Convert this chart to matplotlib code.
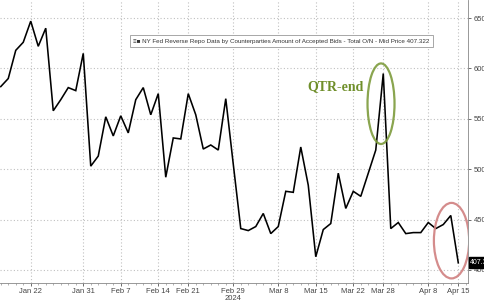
import matplotlib.pyplot as plt
from matplotlib.patches import Ellipse
from matplotlib.ticker import MultipleLocator

# RRP accepted bids (bn USD), one per business day from Jan 16 to the last print
vals = [582, 590, 618, 626, 647, 622, 640, 558, 569, 581,
        578, 615, 503, 513, 552, 533, 553, 536, 569, 581,
        554, 575, 492, 531, 530, 575, 554, 520, 524, 519,
        570, 505, 441, 439, 443, 456, 436, 443, 478, 477,
        522, 484, 413, 440, 446, 496, 461, 478, 473, 496,
        519, 595, 441, 447, 436, 437, 437, 447, 441, 445,
        454, 407]
tick_idx = [4, 11, 16, 21, 25, 31, 37, 42, 47, 51, 57, 61]
tick_lbl = ['Jan 22', 'Jan 31', 'Feb 7', 'Feb 14', 'Feb 21', 'Feb 29\n2024',
            'Mar 8', 'Mar 15', 'Mar 22', 'Mar 28', 'Apr 8', 'Apr 15']
y_ticks = [400, 450, 500, 550, 600, 650]
last = 407.322

plt.rcParams['font.family'] = ['Liberation Sans', 'DejaVu Sans']

fig = plt.figure(figsize=(4.85, 3.01), dpi=100)
ax = fig.add_axes([0, 0.06, 0.965, 0.94])

x = list(range(len(vals)))
ax.plot(x, vals, c='black', lw=1.15, solid_joinstyle='miter', zorder=3)

ax.set_xlim(-0.1, 62.3)
ax.set_ylim(387, 668)

ax.yaxis.tick_right()
ax.set_yticks(y_ticks)
ax.set_xticks(tick_idx)
ax.set_xticklabels(tick_lbl, linespacing=0.95)
ax.xaxis.set_minor_locator(MultipleLocator(1))
ax.tick_params(axis='both', which='major', labelsize=5.5, colors='#555555',
               length=2.5, width=0.6, pad=1.5)
ax.tick_params(axis='x', which='minor', length=1.5, width=0.4, colors='#777777')
for lab in ax.get_xticklabels() + ax.get_yticklabels():
    lab.set_color('#444444')

ax.grid(True, ls=(0, (1, 2)), c='#c0c0c0', lw=0.8)
ax.spines['top'].set_visible(False)
ax.spines['left'].set_visible(False)
ax.spines['right'].set_color('#888888')
ax.spines['bottom'].set_color('#888888')
ax.spines['right'].set_linewidth(0.6)
ax.spines['bottom'].set_linewidth(0.6)

# legend box
ax.text(0.285, 0.855,
        '\u2261\u25A0 NY Fed Reverse Repo Data by Counterparties Amount of Accepted Bids - Total O/N - Mid Price 407.322',
        transform=ax.transAxes, fontsize=4.5, color='#333333', va='center', ha='left',
        bbox=dict(boxstyle='square,pad=0.5', fc='white', ec='#999999', lw=0.6), zorder=5)

# annotations
ax.add_patch(Ellipse((50.7, 565), 3.6, 80, fill=False, ec='#7d9b3c', lw=1.6, alpha=0.9, zorder=4))
ax.add_patch(Ellipse((60.1, 429), 4.7, 75, fill=False, ec='#d08080', lw=1.6, alpha=0.9, zorder=4))
ax.text(44.6, 582, 'QTR-end', fontsize=10, fontweight='bold', color='#6f8f2a',
        family='Liberation Serif', ha='center', va='center', zorder=5)

# last value tag
ax.annotate(f'{last:.3f}', xy=(1.005, last), xycoords=('axes fraction', 'data'),
            fontsize=5, color='white', va='center', ha='left', annotation_clip=False,
            bbox=dict(boxstyle='square,pad=0.25', fc='black', ec='black'))

plt.savefig('out.png', dpi=100)
